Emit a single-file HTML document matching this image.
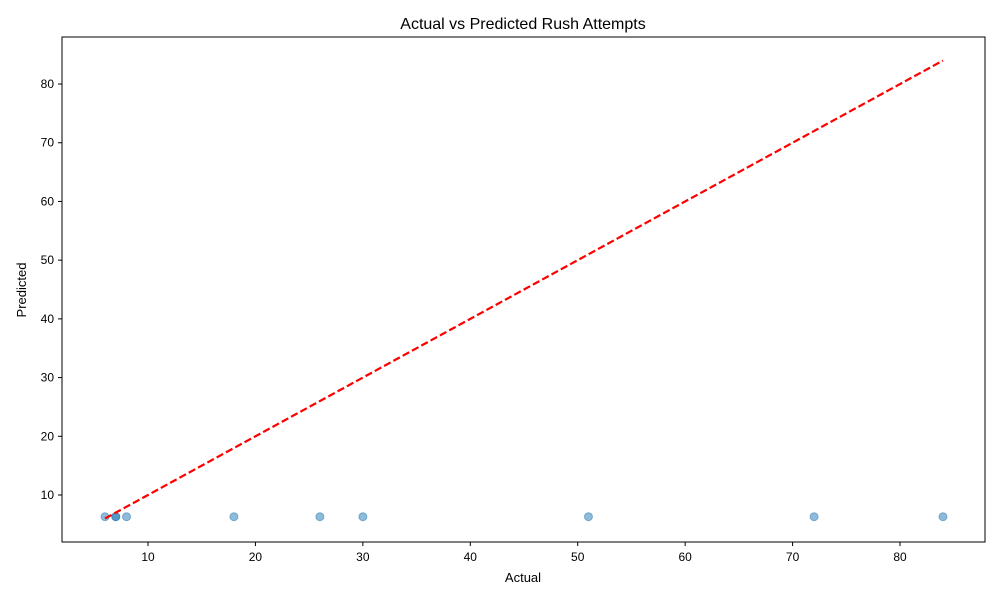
<!DOCTYPE html>
<html><head><meta charset="utf-8"><style>
body{margin:0;background:#fff;font-family:"Liberation Sans",sans-serif}
</style></head><body>
<svg id="chart" width="1000" height="600" font-family="Liberation Sans, sans-serif">
<rect width="1000" height="600" fill="#fff"/>
<text x="523" y="29" text-anchor="middle" font-size="16">Actual vs Predicted Rush Attempts</text>
<rect x="62" y="37" width="923" height="505" fill="none" stroke="#000" stroke-width="1"/>
<text x="523" y="582" text-anchor="middle" font-size="13">Actual</text>
<text transform="translate(26,290) rotate(-90)" text-anchor="middle" font-size="13">Predicted</text>
</svg>
<script>
const actual=[6,7,7,8,18,26,30,51,72,84];
const predicted=[6.3,6.3,6.3,6.3,6.3,6.3,6.3,6.3,6.3,6.3];
const xTicks=[10,20,30,40,50,60,70,80];
const yTicks=[10,20,30,40,50,60,70,80];
const NS='http://www.w3.org/2000/svg';
const svg=document.getElementById('chart');
const sx=v=>148+(v-10)*10.743;
const sy=v=>495-(v-10)*5.871;
function mk(t,a){const e=document.createElementNS(NS,t);for(const k in a)e.setAttribute(k,a[k]);svg.appendChild(e);return e;}
xTicks.forEach(v=>{
 const l=mk('line',{x1:sx(v),x2:sx(v),y1:542,y2:546,stroke:'#000'});
 
 
 const t=mk('text',{x:sx(v),y:561,'text-anchor':'middle','font-size':'12'});t.textContent=v;
 
 
});
yTicks.forEach(v=>{
 const l=mk('line',{x1:58,x2:62,y1:sy(v),y2:sy(v),stroke:'#000'});
 
 
 const t=mk('text',{x:54,y:sy(v)+4,'text-anchor':'end','font-size':'12'});t.textContent=v;
 
 
});
actual.forEach((a,i)=>{
 const c=mk('circle',{cx:sx(a),cy:sy(predicted[i]),r:4,fill:'#1f77b4','fill-opacity':0.5,stroke:'#1f77b4','stroke-opacity':0.5});
 
 
});
const mn=Math.min(...actual),mx=Math.max(...actual);
const ln=mk('line',{x1:sx(mn),y1:sy(mn),x2:sx(mx),y2:sy(mx),stroke:'#ff0000','stroke-width':2.2,'stroke-dasharray':'7.4,3.2'});


</script>
</body></html>
